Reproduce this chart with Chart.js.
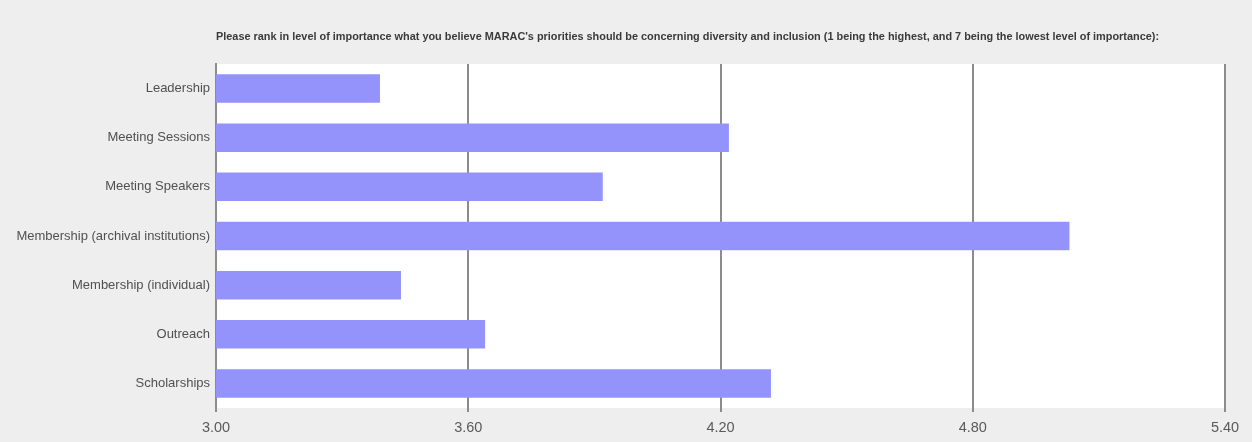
<!DOCTYPE html>
<html>
<head>
<meta charset="utf-8">
<script src="https://cdn.jsdelivr.net/npm/chart.js@4/dist/chart.umd.min.js"></script>
<style>
  html, body { margin: 0; padding: 0; background: #eeeeee; }
  #wrap { width: 1252px; height: 442px; }
</style>
</head>
<body>
<div id="wrap"><canvas id="chart" width="1252" height="442"></canvas></div>
<script>
const titleText = "Please rank in level of importance what you believe MARAC's priorities should be concerning diversity and inclusion (1 being the highest, and 7 being the lowest level of importance):";
const categories = [
  'Leadership',
  'Meeting Sessions',
  'Meeting Speakers',
  'Membership (archival institutions)',
  'Membership (individual)',
  'Outreach',
  'Scholarships'
];
const averageRank = [3.39, 4.22, 3.92, 5.03, 3.44, 3.64, 4.32];
const axisMin = 3.0;
const axisMax = 5.4;
const axisStep = 0.6;

// white plot area + title drawn at the plot's left edge
const plotBackground = {
  id: 'plotBackground',
  beforeDraw(chart) {
    const { ctx, chartArea } = chart;
    ctx.save();
    ctx.fillStyle = '#ffffff';
    ctx.fillRect(chartArea.left, chartArea.top, chartArea.right - chartArea.left, chartArea.bottom - chartArea.top);
    ctx.restore();
  },
  afterDraw(chart) {
    const { ctx, chartArea } = chart;
    ctx.save();
    ctx.font = 'bold 10.9px "Liberation Sans", Arial, sans-serif';
    ctx.fillStyle = '#3a3a3a';
    ctx.textBaseline = 'middle';
    ctx.fillText(titleText, chartArea.left, 37);
    ctx.restore();
  }
};

new Chart(document.getElementById('chart'), {
  type: 'bar',
  data: {
    labels: categories,
    datasets: [{
      data: averageRank,
      backgroundColor: '#9393fb',
      borderWidth: 0,
      barPercentage: 0.58,
      categoryPercentage: 1
    }]
  },
  plugins: [plotBackground],
  options: {
    indexAxis: 'y',
    responsive: false,
    animation: false,
    layout: { padding: { top: 64, right: 27, left: 0, bottom: 0 } },
    plugins: {
      legend: { display: false },
      tooltip: { enabled: false }
    },
    scales: {
      x: {
        min: axisMin,
        max: axisMax,
        ticks: {
          stepSize: axisStep,
          color: '#5a5a5a',
          font: { family: '"Liberation Sans", Arial, sans-serif', size: 14.5 },
          padding: 7,
          callback: (v) => Number(v).toFixed(2)
        },
        grid: { color: '#8c8c8c', lineWidth: 2, tickLength: 4 },
        border: { display: false },
        afterFit(scale) { scale.height = 34; }
      },
      y: {
        ticks: {
          color: '#505050',
          font: { family: '"Liberation Sans", Arial, sans-serif', size: 13 },
          padding: 6
        },
        grid: { display: false, drawTicks: false },
        border: { display: true, color: '#8c8c8c', width: 2 },
        afterFit(scale) { scale.width = 216; }
      }
    }
  }
});
</script>
</body>
</html>
